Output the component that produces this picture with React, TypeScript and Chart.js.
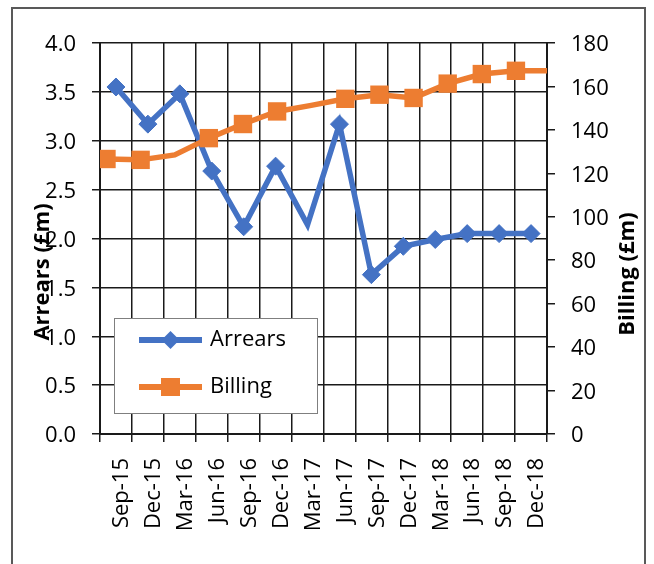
import React, { useEffect, useRef } from "react";
import { Chart, registerables } from "chart.js";

Chart.register(...registerables);

const categories = [
  "Sep-15", "Dec-15", "Mar-16", "Jun-16", "Sep-16", "Dec-16", "Mar-17",
  "Jun-17", "Sep-17", "Dec-17", "Mar-18", "Jun-18", "Sep-18", "Dec-18",
];
const arrears = [3.55, 3.17, 3.48, 2.69, 2.12, 2.74, 2.14, 3.17, 1.63, 1.92, 1.99, 2.05, 2.05, 2.05];
const billing = [126.6, 126.2, 128.5, 136.2, 142.7, 148.5, 151.3, 154.3, 156.2, 154.7, 161.3, 165.7, 167.2, 167.2];

const arrearsAxis = { min: 0, max: 4, step: 0.5, title: "Arrears (£m)" };
const billingAxis = { min: 0, max: 180, step: 20, title: "Billing (£m)" };

// points drawn without a marker in the reference
const arrearsNoMarker = [6];
const billingNoMarker = [2, 6, 13];

const BLUE = "#4472C4";
const ORANGE = "#ED7D31";
const FONT = "'Open Sans', 'Noto Sans', sans-serif";
const GRID = "#1a1a1a";

function drawDiamond(ctx: CanvasRenderingContext2D, x: number, y: number, r: number) {
  ctx.beginPath();
  ctx.moveTo(x, y - r);
  ctx.lineTo(x + r, y);
  ctx.lineTo(x, y + r);
  ctx.lineTo(x - r, y);
  ctx.closePath();
  ctx.fill();
}

const boxLegend = {
  id: "boxLegend",
  afterDatasetsDraw(chart: any) {
    const ctx: CanvasRenderingContext2D = chart.ctx;
    ctx.save();
    const x0 = 114, y0 = 318, w = 203, h = 95;
    ctx.fillStyle = "#ffffff";
    ctx.fillRect(x0, y0, w, h);
    ctx.strokeStyle = "#7f7f7f";
    ctx.lineWidth = 1;
    ctx.strokeRect(x0 + 0.5, y0 + 0.5, w, h);
    const rows = [340, 387];
    chart.data.datasets.forEach((ds: any, i: number) => {
      const y = rows[i];
      ctx.strokeStyle = ds.borderColor;
      ctx.lineWidth = 6;
      ctx.beginPath();
      ctx.moveTo(139, y);
      ctx.lineTo(202, y);
      ctx.stroke();
      ctx.fillStyle = ds.borderColor;
      if (ds.pointStyle === "rectRot") {
        drawDiamond(ctx, 170.5, y, 9);
      } else {
        ctx.fillRect(170.5 - 9.5, y - 9, 19, 18);
      }
      ctx.fillStyle = "#000";
      ctx.font = `22px ${FONT}`;
      ctx.textAlign = "left";
      ctx.textBaseline = "middle";
      ctx.fillText(ds.label, 210, y);
    });
    ctx.restore();
  },
};

const axisTitles = {
  id: "axisTitles",
  afterDraw(chart: any) {
    const ctx: CanvasRenderingContext2D = chart.ctx;
    ctx.save();
    ctx.fillStyle = "#000";
    ctx.font = `bold 22px ${FONT}`;
    ctx.textAlign = "center";
    ctx.textBaseline = "middle";
    const items: [string, number, number][] = [
      [arrearsAxis.title, 43, 272],
      [billingAxis.title, 628, 274],
    ];
    items.forEach(([t, x, y]) => {
      ctx.save();
      ctx.translate(x, y);
      ctx.rotate(-Math.PI / 2);
      ctx.fillText(t, 0, 0);
      ctx.restore();
    });
    ctx.restore();
  },
};

export default function App() {
  const ref = useRef<HTMLCanvasElement | null>(null);

  useEffect(() => {
    document.body.style.margin = "0";
    document.body.style.background = "#ffffff";
    if (!ref.current) return;
    Chart.defaults.font.family = FONT;
    const chart = new Chart(ref.current, {
      type: "line",
      data: {
        labels: categories,
        datasets: [
          {
            label: "Arrears",
            data: arrears,
            xAxisID: "x",
            yAxisID: "y",
            borderColor: BLUE,
            backgroundColor: BLUE,
            borderWidth: 5.5,
            pointStyle: "rectRot",
            pointRadius: arrears.map((_, i) => (arrearsNoMarker.includes(i) ? 0 : 9)),
            pointBackgroundColor: BLUE,
            pointBorderColor: BLUE,
            pointBorderWidth: 1,
            tension: 0,
            order: 1,
          } as any,
          {
            label: "Billing",
            data: billing.map((v, i) => ({ x: i, y: v })),
            xAxisID: "x2",
            yAxisID: "y2",
            borderColor: ORANGE,
            backgroundColor: ORANGE,
            borderWidth: 5.5,
            pointStyle: "rect",
            pointRadius: billing.map((_, i) => (billingNoMarker.includes(i) ? 0 : 13)),
            pointBackgroundColor: ORANGE,
            pointBorderColor: ORANGE,
            pointBorderWidth: 0,
            tension: 0,
            order: 0,
          } as any,
        ],
      },
      options: {
        animation: false,
        responsive: false,
        maintainAspectRatio: false,
        events: [],
        layout: { padding: { top: 43, left: 0, right: 0, bottom: 0 } },
        plugins: {
          legend: { display: false },
          tooltip: { enabled: false },
          title: { display: false },
        },
        scales: {
          x: {
            type: "category",
            position: "bottom",
            offset: true,
            grid: {
              offset: true,
              color: GRID,
              lineWidth: 1.5,
              tickLength: 8,
              drawTicks: true,
            },
            border: { color: GRID, width: 2 },
            ticks: {
              autoSkip: false,
              maxRotation: 90,
              minRotation: 90,
              padding: 16,
              labelOffset: 6,
              color: "#000",
              font: { size: 22, family: FONT },
            },
            afterFit: (s: any) => {
              s.height = 130;
            },
          },
          x2: {
            type: "linear",
            axis: "x",
            display: false,
            min: -0.19,
            max: 12.91,
          },
          y: {
            type: "linear",
            position: "left",
            min: arrearsAxis.min,
            max: arrearsAxis.max,
            grid: { color: GRID, lineWidth: 1.5, tickLength: 8 },
            border: { color: GRID, width: 2 },
            ticks: {
              stepSize: arrearsAxis.step,
              padding: 16,
              labelOffset: 2,
              color: "#000",
              font: { size: 22, family: FONT },
              callback: (v: any) => Number(v).toFixed(1),
            },
            afterFit: (s: any) => {
              s.width = 100;
            },
          },
          y2: {
            type: "linear",
            position: "right",
            min: billingAxis.min,
            max: billingAxis.max,
            grid: { drawOnChartArea: false, color: GRID, lineWidth: 1.5, tickLength: 8 },
            border: { color: GRID, width: 2 },
            ticks: {
              stepSize: billingAxis.step,
              padding: 16,
              labelOffset: 2,
              color: "#000",
              font: { size: 22, family: FONT },
            },
            afterFit: (s: any) => {
              s.width = 107;
            },
          },
        },
      } as any,
      plugins: [boxLegend, axisTitles],
    });
    return () => chart.destroy();
  }, []);

  return (
    <div style={{ position: "relative", width: 654, height: 564, overflow: "hidden", background: "#fff" }}>
      <div
        style={{
          position: "absolute",
          left: 11,
          top: 7,
          width: 635,
          height: 600,
          border: "2px solid #595959",
          boxSizing: "border-box",
        }}
      />
      <canvas
        ref={ref}
        width={654}
        height={564}
        style={{ position: "absolute", left: 0, top: 0, width: 654, height: 564 }}
      />
    </div>
  );
}
